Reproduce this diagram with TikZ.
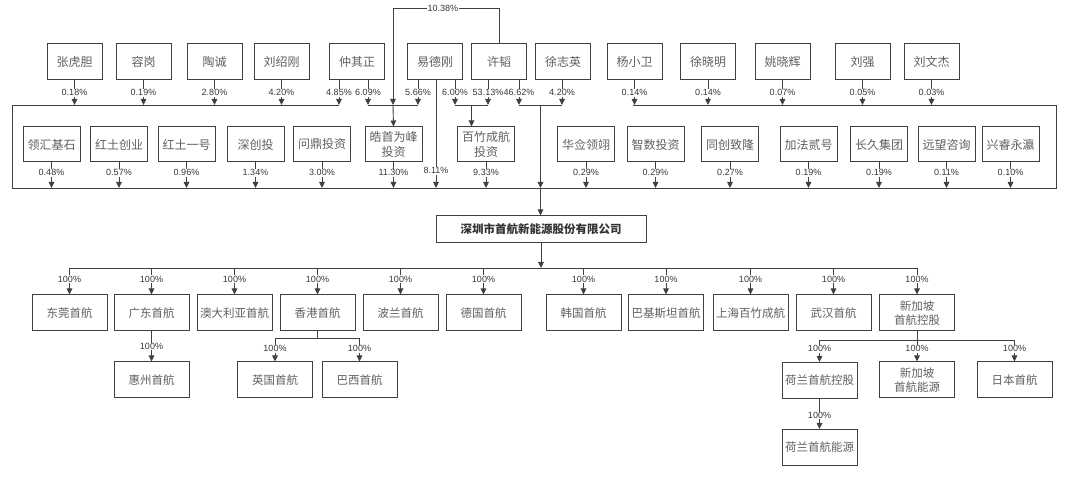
\documentclass[tikz,border=0pt]{standalone}
\usepackage{fontspec}
\setmainfont{Liberation Sans}
\newfontfamily\cjk{Noto Sans CJK SC}
\usetikzlibrary{arrows.meta}
\definecolor{lc}{HTML}{404040}
\definecolor{tc}{HTML}{606060}
\definecolor{pc}{HTML}{383838}
\begin{document}
\begin{tikzpicture}[x=1pt,y=-1pt,
  box/.style={draw=lc, line width=1pt, inner sep=0pt, minimum height=36pt, align=center, text=tc, font=\cjk\fontsize{12}{14.5}\selectfont},
  pw/.style={box, minimum width=55pt},
  cw/.style={box, minimum width=57pt, minimum height=35pt},
  sw/.style={box, minimum width=75pt, font=\cjk\fontsize{11.5}{14.5}\selectfont},
  pct/.style={fill=white, inner sep=0.8pt, text=pc, font=\fontsize{9}{10}\selectfont},
  ln/.style={draw=lc, line width=0.9pt},
  arr/.style={ln, -{Triangle[length=6pt,width=5.5pt]}}]
\useasboundingbox (0,0) rectangle (1080,486);
\fill[white] (0,0) rectangle (1080,486);

% persons
\node[pw] (p1) at (74.5,62) {张虎胆};
\node[pw] (p2) at (143.5,62) {容岗};
\node[pw] (p3) at (214.5,62) {陶诚};
\node[pw] (p4) at (281.5,62) {刘绍刚};
\node[pw] (p5) at (357,62) {仲其正};
\node[pw] (p6) at (435,62) {易德刚};
\node[pw] (p7) at (499,62) {许韬};
\node[pw] (p8) at (563,62) {徐志英};
\node[pw] (p9) at (634.5,62) {杨小卫};
\node[pw] (p10) at (708,62) {徐晓明};
\node[pw] (p11) at (782.5,62) {姚晓辉};
\node[pw] (p12) at (862.5,62) {刘强};
\node[pw] (p13) at (931.5,62) {刘文杰};

% second row
\node[cw] (c1) at (51.5,144.5) {领汇基石};
\node[cw] (c2) at (119,144.5) {红土创业};
\node[cw] (c3) at (186.5,144.5) {红土一号};
\node[cw] (c4) at (255.5,144.5) {深创投};
\node[cw] (c5) at (322,144.5) {问鼎投资};
\node[cw] (c6) at (393.5,144.5) {皓首为峰\\投资};
\node[cw] (c7) at (486,144.5) {百竹成航\\投资};
\node[cw] (c8) at (586,144.5) {华佥领翊};
\node[cw] (c9) at (655.5,144.5) {智数投资};
\node[cw] (c10) at (730,144.5) {同创致隆};
\node[cw] (c11) at (808.5,144.5) {加法贰号};
\node[cw] (c12) at (879,144.5) {长久集团};
\node[cw] (c13) at (946.5,144.5) {远望咨询};
\node[cw] (c14) at (1010.5,144.5) {兴睿永瀛};

% main company
\node[box, minimum width=210pt, minimum height=27pt, font=\cjk\bfseries\fontsize{11.5}{13}\selectfont, text=black!80] (m) at (541,229.5) {深圳市首航新能源股份有限公司};

% subsidiaries
\node[sw] (s1) at (69.5,313) {东莞首航};
\node[sw] (s2) at (151.5,313) {广东首航};
\node[sw] (s3) at (234.5,313) {澳大利亚首航};
\node[sw] (s4) at (317.5,313) {香港首航};
\node[sw] (s5) at (400.5,313) {波兰首航};
\node[sw] (s6) at (483.5,313) {德国首航};
\node[sw] (s7) at (583.5,313) {韩国首航};
\node[sw] (s8) at (666,313) {巴基斯坦首航};
\node[sw] (s9) at (750.5,313) {上海百竹成航};
\node[sw] (s10) at (833.5,313) {武汉首航};
\node[sw] (s11) at (917,313) {新加坡\\首航控股};

\node[sw] (t1) at (151.5,380) {惠州首航};
\node[sw] (t2) at (275,380) {英国首航};
\node[sw] (t3) at (359.5,380) {巴西首航};
\node[sw] (t4) at (819.5,380.5) {荷兰首航控股};
\node[sw] (t5) at (917,380) {新加坡\\首航能源};
\node[sw] (t6) at (1014.5,380) {日本首航};
\node[sw] (t7) at (819.5,447.5) {荷兰首航能源};

% bus coordinates
\coordinate (tl) at (12,105);
\coordinate (tlx) at (339,105);
\coordinate (trx) at (633,105);
\coordinate (tr) at (1056,105);
\coordinate (bl) at (12,188);
\coordinate (br) at (1056,188);
\coordinate (top) at (0,105);
\coordinate (bot) at (0,188);
\draw[ln] (trx) -- (tr) -- (br) -- (bl) -- (tl) -- (tlx);

% persons -> top line
\draw[arr] (p1.south) -- node[pct]{0.18\%} (p1.south |- top);
\draw[arr] (p2.south) -- node[pct]{0.19\%} (p2.south |- top);
\draw[arr] (p3.south) -- node[pct]{2.80\%} (p3.south |- top);
\draw[arr] (p4.south) -- node[pct]{4.20\%} (p4.south |- top);
\draw[arr] ([xshift=-18pt]p5.south) -- node[pct]{4.85\%} ([xshift=-18pt]p5.south |- top);
\draw[arr] ([xshift=11pt]p5.south) -- node[pct]{6.09\%} ([xshift=11pt]p5.south |- top);
\draw[arr] ([xshift=-17pt]p6.south) -- node[pct]{5.66\%} ([xshift=-17pt]p6.south |- top);
\draw[arr] ([xshift=1pt]p6.south) -- node[pct, pos=0.84]{8.11\%} ([xshift=1pt]p6.south |- bot);
\draw[arr] ([xshift=20pt]p6.south) -- node[pct]{6.00\%} ([xshift=20pt]p6.south |- top);
\draw[arr] ([xshift=-11pt]p7.south) -- node[pct]{53.13\%} ([xshift=-11pt]p7.south |- top);
\draw[arr] ([xshift=20pt]p7.south) -- node[pct]{46.62\%} ([xshift=20pt]p7.south |- top);
\draw[arr] ([xshift=-1pt]p8.south) -- node[pct]{4.20\%} ([xshift=-1pt]p8.south |- top);
\draw[arr] (p9.south) -- node[pct]{0.14\%} (p9.south |- top);
\draw[arr] (p10.south) -- node[pct]{0.14\%} (p10.south |- top);
\draw[arr] (p11.south) -- node[pct]{0.07\%} (p11.south |- top);
\draw[arr] (p12.south) -- node[pct]{0.05\%} (p12.south |- top);
\draw[arr] (p13.south) -- node[pct]{0.03\%} (p13.south |- top);

% 10.38% link
\coordinate (ka) at (499,8);
\coordinate (kb) at (393,8);
\coordinate (kc) at (393,105);
\draw[arr] (p7.north) -- (ka) -- node[pct, pos=0.53]{10.38\%} (kb) -- (kc);

% brackets
\coordinate (b1l) at (368,105);
\coordinate (b1r) at (418,105);
\draw[ln] (b1l) -- (b1r);
\draw[arr] (kc) -- (c6.north);
\coordinate (b2l) at (455,105);
\coordinate (b2r) at (488,105);
\coordinate (b2m) at (471.5,105);
\draw[ln] (b2l) -- (b2r);
\draw[arr] (b2m) -- (b2m |- c7.north);
\coordinate (b3l) at (519,105);
\coordinate (b3r) at (562,105);
\coordinate (b3m) at (540.5,105);
\coordinate (b3b) at (540.5,188);
\draw[ln] (b3l) -- (b3r);
\draw[arr] (b3m) -- (b3b);
\draw[arr] (b3b) -- (b3b |- m.north);

% second row -> bottom line
\draw[arr] (c1.south) -- node[pct, pos=0.4]{0.48\%} (c1.south |- bot);
\draw[arr] (c2.south) -- node[pct, pos=0.4]{0.57\%} (c2.south |- bot);
\draw[arr] (c3.south) -- node[pct, pos=0.4]{0.96\%} (c3.south |- bot);
\draw[arr] (c4.south) -- node[pct, pos=0.4]{1.34\%} (c4.south |- bot);
\draw[arr] (c5.south) -- node[pct, pos=0.4]{3.00\%} (c5.south |- bot);
\draw[arr] (c6.south) -- node[pct, pos=0.4]{11.30\%} (c6.south |- bot);
\draw[arr] (c7.south) -- node[pct, pos=0.4]{9.33\%} (c7.south |- bot);
\draw[arr] (c8.south) -- node[pct, pos=0.4]{0.29\%} (c8.south |- bot);
\draw[arr] (c9.south) -- node[pct, pos=0.4]{0.29\%} (c9.south |- bot);
\draw[arr] (c10.south) -- node[pct, pos=0.4]{0.27\%} (c10.south |- bot);
\draw[arr] (c11.south) -- node[pct, pos=0.4]{0.19\%} (c11.south |- bot);
\draw[arr] (c12.south) -- node[pct, pos=0.4]{0.19\%} (c12.south |- bot);
\draw[arr] (c13.south) -- node[pct, pos=0.4]{0.11\%} (c13.south |- bot);
\draw[arr] (c14.south) -- node[pct, pos=0.4]{0.10\%} (c14.south |- bot);

% main -> subsidiaries
\coordinate (sb) at (0,268);
\draw[arr] (m.south) -- (m.south |- sb);
\draw[ln] (s1.north |- sb) -- (s11.north |- sb);
\foreach \s in {s1,s2,s3,s4,s5,s6,s7,s8,s9,s10,s11}
  \draw[arr] (\s.north |- sb) -- node[pct, pos=0.42]{100\%} (\s.north);

% level 3
\draw[arr] (s2.south) -- node[pct, pos=0.5]{100\%} (t1.north);
\coordinate (hk) at (0,338);
\draw[ln] (s4.south) -- (s4.south |- hk);
\draw[ln] (t2.north |- hk) -- (t3.north |- hk);
\draw[arr] (t2.north |- hk) -- node[pct, pos=0.45]{100\%} (t2.north);
\draw[arr] (t3.north |- hk) -- node[pct, pos=0.45]{100\%} (t3.north);
\coordinate (sg) at (0,340);
\draw[ln] (s11.south) -- (s11.south |- sg);
\draw[ln] (t4.north |- sg) -- (t6.north |- sg);
\draw[arr] (t4.north |- sg) -- node[pct, pos=0.4]{100\%} (t4.north);
\draw[arr] (t5.north |- sg) -- node[pct, pos=0.4]{100\%} (t5.north);
\draw[arr] (t6.north |- sg) -- node[pct, pos=0.4]{100\%} (t6.north);
\draw[arr] (t4.south) -- node[pct, pos=0.55]{100\%} (t7.north);
\end{tikzpicture}
\end{document}
